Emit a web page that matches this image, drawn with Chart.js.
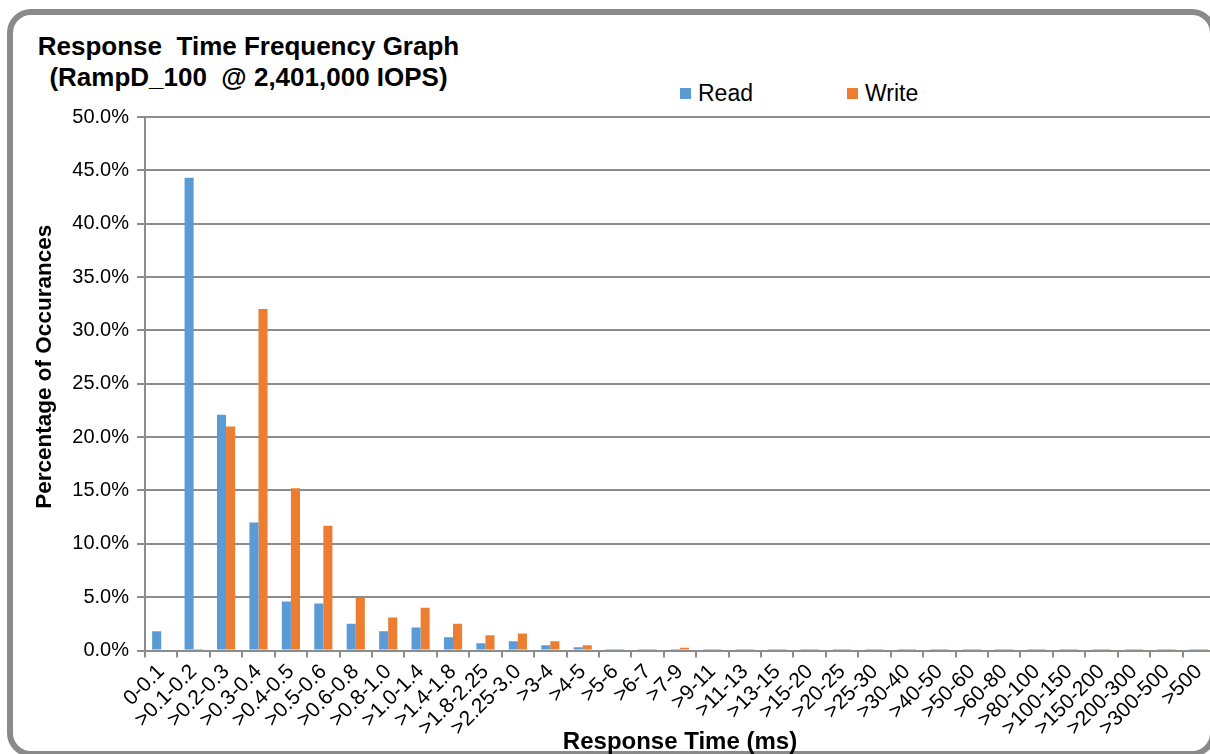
<!DOCTYPE html>
<html>
<head>
<meta charset="utf-8">
<title>Response Time Frequency Graph</title>
<script src="https://cdn.jsdelivr.net/npm/chart.js@4.4.0/dist/chart.umd.min.js"></script>
<style>
  html, body { margin: 0; padding: 0; background: #fff; overflow: hidden; }
  body { position: relative; width: 1210px; height: 754px; font-family: "Liberation Sans", Arial, sans-serif; color: #000; }
  #marco { position: absolute; left: 7px; top: 9px; width: 1209px; height: 748px; box-sizing: border-box;
           border: 6px solid #8a8a8a; border-radius: 24px; pointer-events: none; }
  #contenedor { position: absolute; left: 0; top: 0; width: 1240px; height: 754px; }
  #titulo { position: absolute; left: 30px; top: 31px; width: 437px; text-align: center;
            font-weight: bold; font-size: 26px; line-height: 31px; white-space: pre; }
  .item { position: absolute; top: 81px; font-size: 23px; line-height: 24px; white-space: nowrap; }
  .caja { position: absolute; top: 7px; width: 11px; height: 11px; }
</style>
</head>
<body>
<div id="marco"></div>
<div id="titulo">Response  Time Frequency Graph
(RampD_100  @ 2,401,000 IOPS)</div>
<div id="leyenda"></div>
<div id="contenedor"><canvas id="grafica"></canvas></div>
<script>
// rangos de tiempo de respuesta (ms)
const rangos = ['0-0.1', '>0.1-0.2', '>0.2-0.3', '>0.3-0.4', '>0.4-0.5', '>0.5-0.6', '>0.6-0.8',
  '>0.8-1.0', '>1.0-1.4', '>1.4-1.8', '>1.8-2.25', '>2.25-3.0', '>3-4', '>4-5', '>5-6', '>6-7',
  '>7-9', '>9-11', '>11-13', '>13-15', '>15-20', '>20-25', '>25-30', '>30-40', '>40-50', '>50-60',
  '>60-80', '>80-100', '>100-150', '>150-200', '>200-300', '>300-500', '>500'];

// porcentaje de ocurrencias
const lecturas = [1.8, 44.3, 22.1, 12.0, 4.6, 4.4, 2.5, 1.8, 2.15, 1.25, 0.68, 0.87, 0.5, 0.3,
  0.03, 0.02, 0.03, 0.02, 0.02, 0.02, 0.02, 0.02, 0.02, 0.02, 0.02, 0.02, 0.02, 0.02, 0.02, 0.02,
  0.02, 0.02, 0.01];
const escrituras = [0, 0.05, 21.0, 32.0, 15.2, 11.7, 4.95, 3.1, 4.0, 2.5, 1.42, 1.6, 0.86, 0.5,
  0.04, 0.03, 0.25, 0.03, 0.03, 0.03, 0.03, 0.03, 0.03, 0.03, 0.03, 0.03, 0.03, 0.03, 0.03, 0.03,
  0.03, 0.03, 0.02];

const series = ['Read', 'Write'];
const ticksY = [0, 5, 10, 15, 20, 25, 30, 35, 40, 45, 50];

const colores = ['#5b9bd5', '#ed7d31'];
const gris = '#8c8c8c';

Chart.defaults.font.family = '"Liberation Sans", Arial, sans-serif';
Chart.defaults.color = '#000';

const datasetValue = [lecturas, escrituras].map((valores, i) => ({
  label: series[i],
  data: valores,
  backgroundColor: colores[i],
  borderWidth: 0,
  categoryPercentage: 0.56,
  barPercentage: 1.0
}));

// sube un poco el titulo del eje Y
function moverTitulo(eje, dy) {
  if (eje._tituloMovido) return;
  const dibujar = eje.drawTitle;
  eje.drawTitle = function () {
    this.ctx.save();
    this.ctx.translate(0, dy);
    dibujar.call(this);
    this.ctx.restore();
  };
  eje._tituloMovido = true;
}

const config = {
  type: 'bar',
  data: { labels: rangos, datasets: datasetValue },
  options: {
    responsive: true,
    maintainAspectRatio: false,
    animation: false,
    layout: { padding: { top: 117, right: 25, bottom: 0, left: 0 } },
    plugins: {
      legend: { display: false },
      title: { display: false },
      tooltip: { enabled: false }
    },
    scales: {
      x: {
        afterFit: (eje) => { eje.height = 103.5; },
        grid: { drawOnChartArea: false, drawTicks: true, tickLength: 7, color: gris, lineWidth: 2 },
        border: { display: true, color: gris, width: 2 },
        ticks: { autoSkip: false, minRotation: 45, maxRotation: 45, padding: 2, font: { size: 21 } },
        title: { display: true, text: 'Response Time (ms)', font: { size: 24, weight: 'bold' },
                 padding: { top: 0, bottom: -3 } }
      },
      y: {
        min: 0,
        max: 50,
        afterFit: (eje) => { eje.width = 145; moverTitulo(eje, -17); },
        afterBuildTicks: (eje) => { eje.ticks = ticksY.map(v => ({ value: v })); },
        grid: { color: gris, lineWidth: 2, tickLength: 8 },
        border: { display: true, color: gris, width: 2 },
        ticks: { padding: 8, font: { size: 20 }, callback: (v) => v.toFixed(1) + '%' },
        title: { display: true, text: 'Percentage of Occurances', font: { size: 22.5, weight: 'bold' },
                 padding: { top: 31, bottom: 0 } }
      }
    }
  }
};

const myChart = new Chart(document.getElementById('grafica'), config);

// leyenda en HTML
const posLeyenda = [680, 847];
const leyenda = document.getElementById('leyenda');
myChart.data.datasets.forEach((ds, i) => {
  const item = document.createElement('div');
  item.className = 'item';
  item.style.left = posLeyenda[i] + 'px';
  item.style.paddingLeft = '18px';
  const caja = document.createElement('span');
  caja.className = 'caja';
  caja.style.left = '0px';
  caja.style.background = ds.backgroundColor;
  item.appendChild(caja);
  item.appendChild(document.createTextNode(ds.label));
  leyenda.appendChild(item);
});
</script>
</body>
</html>
